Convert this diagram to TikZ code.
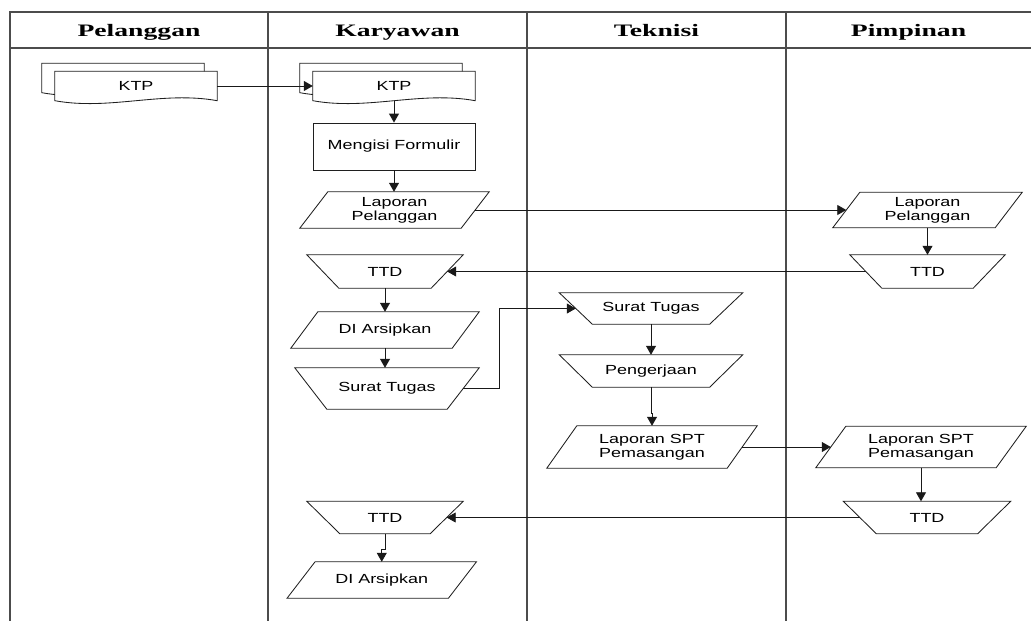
\documentclass[tikz,border=0pt]{standalone}
\usepackage{fontspec}
\setmainfont[FakeStretch=1.36]{Liberation Sans}
\newfontfamily\hdrfont[FakeStretch=1.58]{Liberation Serif}
\usetikzlibrary{arrows.meta,calc,backgrounds}

% outline of a slanted input/output box around a node (top edge shifted right)
\newcommand\slantbox[2]{%
  \draw[shapeline] ($(#1.north west)+(#2,0)$) -- ($(#1.north east)+(#2,0)$)
    -- ($(#1.south east)-(#2,0)$) -- ($(#1.south west)-(#2,0)$) -- cycle;}
% outline of a manual-operation box (wider top) around a node
\newcommand\trapbox[2]{%
  \draw[shapeline] ($(#1.north west)-(#2,0)$) -- ($(#1.north east)+(#2,0)$)
    -- ($(#1.south east)-(#2,0)$) -- ($(#1.south west)+(#2,0)$) -- cycle;}
% outline of a document sheet with wavy bottom, offset by (#2,#3)
\newcommand\docsheet[3]{%
  \draw[shapeline,fill=white] ($(#1.north west)+(#2,#3)$) -- ($(#1.north east)+(#2,#3)$)
    -- ($(#1.south east)+(#2,#3)$)
    .. controls ($(#1.south east)+(#2-55,#3-10)$) and ($(#1.south west)+(#2+55,#3+10)$)
    .. ($(#1.south west)+(#2,#3)$) -- cycle;}

\begin{document}
\begin{tikzpicture}[x=1pt,y=-1pt,
  lane/.style={draw=black!70,line width=1.8pt},
  hdr/.style={font=\hdrfont\bfseries\fontsize{17.5}{19}\selectfont,anchor=base,inner sep=0pt},
  shapeline/.style={draw=black!88,line width=0.85pt},
  txt/.style={font=\fontsize{13.2}{14}\selectfont,align=center,inner sep=0pt,draw=none},
  box/.style={txt,minimum width=#1},
  arr/.style={draw=black!90,line width=0.85pt,-{Triangle[length=9pt,width=10pt]}}
]
\useasboundingbox (0,0) rectangle (1031,621);

% swimlane frame
\draw[lane] (10,621) -- (10,12) -- (1031,12);
\draw[lane] (10,48) -- (1031,48);
\draw[lane] (268,12) -- (268,621);
\draw[lane] (527,12) -- (527,621);
\draw[lane] (786,12) -- (786,621);

\node[hdr] (hPel) at (139,36) {Pelanggan};
\node[hdr] (hKar) at (397.5,36) {Karyawan};
\node[hdr] (hTek) at (656.5,36) {Teknisi};
\node[hdr] (hPim) at (908.5,36) {Pimpinan};

% Pelanggan / Karyawan documents
\node[box=162,minimum height=29] (ktpA) at (136,86) {KTP};
\node[box=162,minimum height=29] (ktpB) at (394,86) {KTP};
\begin{scope}[on background layer]
  \docsheet{ktpA}{-13}{-8}
  \docsheet{ktpA}{0}{0}
  \docsheet{ktpB}{-13}{-8}
  \docsheet{ktpB}{0}{0}
\end{scope}

% Karyawan lane
\node[box=162,minimum height=47,draw=black!88,line width=0.85pt] (form) at (394,146.5) {Mengisi Formulir};
\node[box=161,minimum height=36] (lapA) at (394.5,210) {Laporan\\Pelanggan};
\slantbox{lapA}{14}
\node[box=124,minimum height=33] (ttdA) at (385,271.5) {TTD};
\trapbox{ttdA}{16}
\node[box=161,minimum height=36] (diA) at (385,330) {DI Arsipkan};
\slantbox{diA}{13.5}
\node[box=152,minimum height=41] (stA) at (387,388.5) {Surat Tugas};
\trapbox{stA}{16}
\node[box=123,minimum height=32] (ttdA2) at (385,517.5) {TTD};
\trapbox{ttdA2}{16.5}
\node[box=161,minimum height=36] (diA2) at (381.75,580) {DI Arsipkan};
\slantbox{diA2}{14}

% Teknisi lane
\node[box=150,minimum height=31] (stT) at (651,308.5) {Surat Tugas};
\trapbox{stT}{16.5}
\node[box=150,minimum height=32] (peng) at (651,371) {Pengerjaan};
\trapbox{peng}{16.5}
\node[box=180,minimum height=42] (lapT) at (652,447) {Laporan SPT\\Pemasangan};
\slantbox{lapT}{15}

% Pimpinan lane
\node[box=162,minimum height=35] (lapPel) at (927.5,210) {Laporan\\Pelanggan};
\slantbox{lapPel}{13.5}
\node[box=123,minimum height=33] (ttdP1) at (927.5,271.5) {TTD};
\trapbox{ttdP1}{16}
\node[box=180,minimum height=41] (lapP) at (921,447) {Laporan SPT\\Pemasangan};
\slantbox{lapP}{15}
\node[box=134,minimum height=32] (ttdP2) at (927,517.5) {TTD};
\trapbox{ttdP2}{16.5}

% flow
\draw[arr] (ktpA.east) -- (ktpB.west);
\draw[arr] (ktpB.south) -- (form.north);
\draw[arr] (form.south) -- (form.south |- lapA.north);
\draw[arr] (lapA.east) -- (lapPel.west);
\draw[arr] (lapPel.south) -- (lapPel.south |- ttdP1.north);
\draw[arr] (ttdP1.west) -- (ttdA.east);
\draw[arr] (ttdA.south) -- (diA.north);
\draw[arr] (diA.south) -- (diA.south |- stA.north);
\draw[arr] (stA.east) -- ++(36,0) |- (stT.west);
\draw[arr] (stT.south) -- (peng.north);
\draw[arr] (peng.south) -- ++(0,26) -| (lapT.north);
\draw[arr] (lapT.east) -- (lapP.west);
\draw[arr] (lapP.south) -- (lapP.south |- ttdP2.north);
\draw[arr] (ttdP2.west) -- (ttdA2.east);
\draw[arr] (ttdA2.south) -- ++(0,16) -| (diA2.north);
\end{tikzpicture}
\end{document}
